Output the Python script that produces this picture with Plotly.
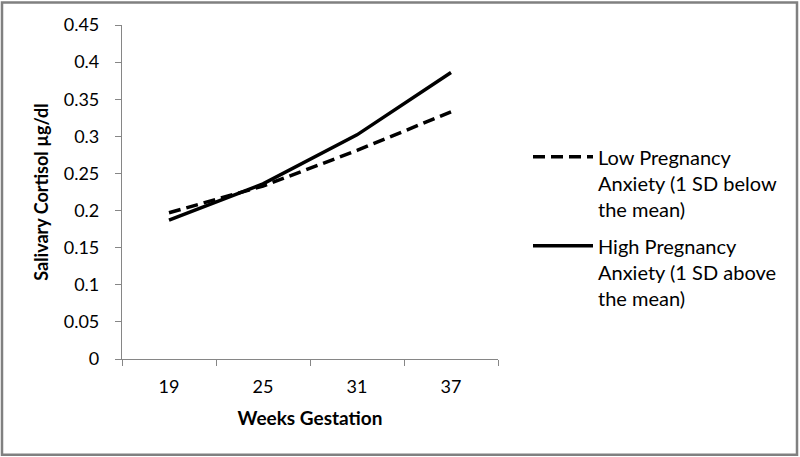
import plotly.graph_objects as go

weeks = ["19", "25", "31", "37"]
low_anxiety = [0.197, 0.233, 0.281, 0.333]
high_anxiety = [0.187, 0.236, 0.302, 0.386]
y_ticks = [0, 0.05, 0.1, 0.15, 0.2, 0.25, 0.3, 0.35, 0.4, 0.45]
y_tick_text = ["0", "0.05", "0.1", "0.15", "0.2", "0.25", "0.3", "0.35", "0.4", "0.45"]

FONT = "Lato"
W, H = 800, 457
L, R, T, B = 122, 302, 24.5, 98
pw, ph = W - L - R, H - T - B

fig = go.Figure()
fig.add_trace(go.Scatter(
    x=weeks, y=low_anxiety, mode="lines", legendgroup="low",
    name="Low Pregnancy<br>Anxiety (1 SD below<br>the mean)",
    line=dict(color="black", width=3.5, dash="12px,6px"),
))
fig.add_trace(go.Scatter(
    x=weeks, y=high_anxiety, mode="lines", legendgroup="high",
    name="High Pregnancy<br>Anxiety (1 SD above<br>the mean)",
    line=dict(color="black", width=3.5),
))

def px(x):
    return (x - L) / pw

def py(y):
    return (H - B - y) / ph

fig.add_shape(type="rect", xref="paper", yref="paper",
              x0=px(2), x1=px(797), y0=py(2), y1=py(455),
              line=dict(color="#808080", width=2.5), fillcolor="rgba(0,0,0,0)")

fig.update_layout(
    width=W, height=H,
    margin=dict(l=L, r=R, t=T, b=B, autoexpand=False),
    paper_bgcolor="white", plot_bgcolor="white",
    font=dict(family=FONT, size=18, color="black"),
    showlegend=True,
    legend=dict(
        x=px(528), y=py(137), xanchor="left", yanchor="top",
        font=dict(family=FONT, size=20, color="black"),
        valign="top", itemwidth=60, tracegroupgap=8,
        bgcolor="rgba(0,0,0,0)",
    ),
    xaxis=dict(
        type="category", range=[-0.5, 3.5], tickson="boundaries",
        ticks="outside", ticklen=6, tickcolor="#868686",
        showline=True, linecolor="#868686", linewidth=1.2,
        showgrid=False, zeroline=False,
        tickfont=dict(family=FONT, size=18, color="black"),
        ticklabelstandoff=11,
        title=dict(text="<b>Weeks Gestation</b>", font=dict(family=FONT, size=19), standoff=15),
    ),
    yaxis=dict(
        range=[0, 0.45], tickvals=y_ticks, ticktext=y_tick_text,
        ticks="outside", ticklen=6, tickcolor="#868686",
        showline=True, linecolor="#868686", linewidth=1.2,
        showgrid=False, zeroline=False,
        tickfont=dict(family=FONT, size=18, color="black"),
        ticklabelstandoff=12,
        title=dict(text="<b>Salivary Cortisol µg/dl</b>", font=dict(family=FONT, size=18), standoff=10),
    ),
)

fig.write_html("out.html", config={"displayModeBar": False},
               post_script="document.body.style.margin='0';document.body.style.overflow='hidden';")
